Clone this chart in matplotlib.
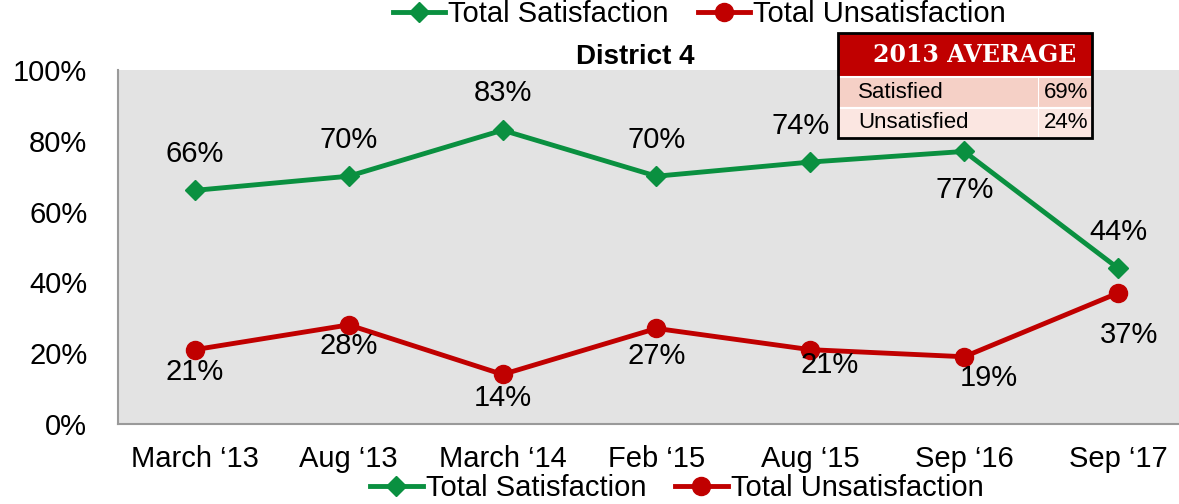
import matplotlib.pyplot as plt
from matplotlib.patches import Rectangle
from matplotlib.lines import Line2D
from matplotlib.ticker import PercentFormatter

plt.rcParams['font.family'] = ['Liberation Sans', 'DejaVu Sans']

periods = ['March \u201813', 'Aug \u201813', 'March \u201814', 'Feb \u201815', 'Aug \u201815', 'Sep \u201816', 'Sep \u201817']
satisfied = [0.66, 0.70, 0.83, 0.70, 0.74, 0.77, 0.44]
unsatisfied = [0.21, 0.28, 0.14, 0.27, 0.21, 0.19, 0.37]
avg_labels = ['Satisfied', 'Unsatisfied']
avg_values = ['69%', '24%']

# label offsets in points (dx, dy) for each point
sat_offsets = [(0, 26), (0, 26), (0, 27), (0, 26), (-7, 26), (0, -28), (0, 26)]
uns_offsets = [(0, -16), (0, -15), (0, -17), (0, -20), (14, -11), (18, -15), (8, -30)]

green = '#0a9040'
red = '#c00000'

fig = plt.figure(figsize=(11.79, 5.04), dpi=100)
ax = fig.add_axes([0.1, 0.1587, 0.9136, 0.7024])
ax.set_facecolor('#e3e3e3')

x = range(len(periods))
ax.plot(x, satisfied, color=green, lw=3.5, marker='D', ms=10, zorder=3)
ax.plot(x, unsatisfied, color=red, lw=3.5, marker='o', ms=13, zorder=3)

for i, v in enumerate(satisfied):
    ax.annotate(f'{v:.0%}', (i, v), xytext=sat_offsets[i], textcoords='offset points',
                ha='center', va='center', fontsize=21)
for i, v in enumerate(unsatisfied):
    ax.annotate(f'{v:.0%}', (i, v), xytext=uns_offsets[i], textcoords='offset points',
                ha='center', va='center', fontsize=21)

ax.set_xlim(-0.5, 6.5)
ax.set_ylim(0, 1)
ax.set_yticks([0, 0.2, 0.4, 0.6, 0.8, 1.0])
ax.yaxis.set_major_formatter(PercentFormatter(1.0, decimals=0))
ax.set_xticks(list(x))
ax.set_xticklabels(periods)
ax.tick_params(axis='both', length=0, labelsize=21)
ax.tick_params(axis='y', pad=22)
ax.tick_params(axis='x', pad=15, labelsize=21)
for s in ['top', 'right']:
    ax.spines[s].set_visible(False)
for s in ['left', 'bottom']:
    ax.spines[s].set_color('#9a9a9a')
    ax.spines[s].set_linewidth(1.5)

ax.set_title('District 4', fontsize=20, fontweight='bold', pad=-6, x=0.48)

handles = [Line2D([], [], color=green, lw=3.5, marker='D', ms=10),
           Line2D([], [], color=red, lw=3.5, marker='o', ms=13)]
names = ['Total Satisfaction', 'Total Unsatisfaction']
for yy, xx in [(0.972, 0.593), (0.032, 0.574)]:
    fig.legend(handles, names, loc='center', bbox_to_anchor=(xx, yy),
               ncol=2, frameon=False, fontsize=21, handlelength=1.8, handletextpad=0.1,
               columnspacing=1.0, borderpad=0)

# 2013 average box
x0, x1, xd = 838 / 1179, 1092 / 1179, 1038 / 1179
y_top, y_hdr, y_mid, y_bot = 1 - 33 / 504, 1 - 77 / 504, 1 - 108 / 504, 1 - 138 / 504
fig.patches.append(Rectangle((x0, y_hdr), x1 - x0, y_top - y_hdr, transform=fig.transFigure,
                             facecolor=red, edgecolor='none', zorder=5))
fig.patches.append(Rectangle((x0, y_mid), x1 - x0, y_hdr - y_mid, transform=fig.transFigure,
                             facecolor='#f5d0c6', edgecolor='white', lw=1.5, zorder=5))
fig.patches.append(Rectangle((x0, y_bot), x1 - x0, y_mid - y_bot, transform=fig.transFigure,
                             facecolor='#fbe6e1', edgecolor='white', lw=1.5, zorder=5))
fig.patches.append(Rectangle((xd, y_bot), 0.001, y_hdr - y_bot, transform=fig.transFigure,
                             facecolor='white', edgecolor='none', zorder=6))
fig.patches.append(Rectangle((x0, y_bot), x1 - x0, y_top - y_bot, transform=fig.transFigure,
                             facecolor='none', edgecolor='black', lw=2, zorder=7))
fig.text((x0 + x1) / 2 + 0.008, (y_top + y_hdr) / 2, '2013 AVERAGE', color='white',
         fontsize=17, fontweight='bold', family='DejaVu Serif', ha='center', va='center', zorder=8)
for (lab, val), yc in zip(zip(avg_labels, avg_values),
                          [(y_hdr + y_mid) / 2, (y_mid + y_bot) / 2]):
    fig.text(x0 + 0.017, yc, lab, fontsize=16, ha='left', va='center', zorder=8)
    fig.text(x1 - 0.003, yc, val, fontsize=16, ha='right', va='center', zorder=8)

fig.savefig('out.png', dpi=100)
